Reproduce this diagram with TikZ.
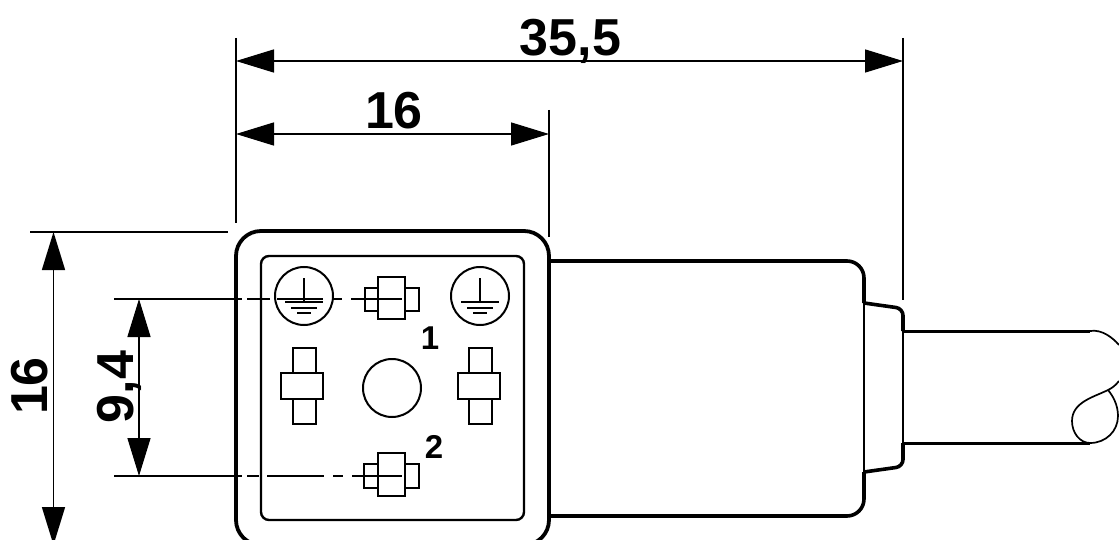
\documentclass[tikz,border=0pt]{standalone}
\usepackage{fontspec}
\setmainfont{Liberation Sans}
\usetikzlibrary{arrows.meta}
\tikzset{
    dimline/.style={line width=1.5pt,{Triangle[length=38pt,width=23pt]}-{Triangle[length=38pt,width=23pt]}},
    helpline/.style={line width=1.5pt},
    dimtext/.style={font=\fontsize{52}{52}\selectfont\bfseries,inner sep=0pt},
    pintext/.style={font=\fontsize{33}{33}\selectfont\bfseries,inner sep=0pt},
    pinbox/.style={draw,rectangle,line width=2pt,inner sep=0pt,fill=white},
    hole/.style={draw,circle,line width=2pt,inner sep=0pt,minimum size=58pt},
    thick outline/.style={line width=3.6pt},
    cable/.style={line width=1.7pt}
}

\begin{document}
\begin{tikzpicture}[x=1pt,y=-1pt]
    \useasboundingbox (0,0) rectangle (1119,540);

    % housing
    \node[draw,rectangle,rounded corners=25pt,line width=3.8pt,inner sep=0pt,minimum width=313pt,minimum height=314pt] (housing) at (392.5,388) {};
    \node[draw,rectangle,rounded corners=8pt,line width=2.4pt,inner sep=0pt,minimum width=263pt,minimum height=264pt] (face) at (392.5,388) {};

    % body and collar
    \draw[thick outline,rounded corners=17pt] (549,261) -- (864,261) -- (864,303);
    \draw[thick outline,rounded corners=17pt] (549,516) -- (864,516) -- (864,472);
    \draw[thick outline,rounded corners=7pt] (864,303) -- (903,308.5) -- (903,331);
    \draw[thick outline,rounded corners=7pt] (864,472) -- (903,466.5) -- (903,443);
    \draw[cable] (864,303) -- (864,472);
    \draw[cable] (903,331) -- (903,443);

    % cable
    \draw[line width=3pt] (903,331) -- (1090,331);
    \draw[line width=3pt] (903,443) -- (1090,443);
    \draw[cable] (1090,331) .. controls (1102,329) and (1113,338) .. (1119,345);
    \draw[cable] (1119,381) .. controls (1115,386) and (1112,388) .. (1108,390) .. controls (1094,397) and (1072,402) .. (1072,421) .. controls (1072,433) and (1080,443) .. (1090,443) .. controls (1106,443) and (1118,431) .. (1118,416) .. controls (1118,405) and (1113,396) .. (1108,390);

    % contacts
    \node[hole] (earth1) at (304,296) {};
    \node[hole] (earth2) at (480,296) {};
    \node[hole] (center) at (392,388) {};
    \foreach \ex/\en in {304/earth1,480/earth2}{
        \draw[line width=2pt] (\ex,278) -- (\ex,302);
        \draw[line width=2pt] (\ex-19,302) -- (\ex+19,302);
        \draw[line width=2pt] (\ex-13,307.5) -- (\ex+13,307.5);
        \draw[line width=2pt] (\ex-7,313) -- (\ex+7,313);
    }

    \node[pinbox,minimum width=54pt,minimum height=23pt] (pin1a) at (392,299.5) {};
    \node[pinbox,minimum width=27pt,minimum height=42pt] (pin1b) at (391.5,298) {};
    \node[pinbox,minimum width=55pt,minimum height=24pt] (pin2a) at (391.5,476) {};
    \node[pinbox,minimum width=27pt,minimum height=43pt] (pin2b) at (391.5,474.5) {};
    \node[pinbox,minimum width=23pt,minimum height=76pt] (pin3a) at (304.5,386) {};
    \node[pinbox,minimum width=42pt,minimum height=26pt] (pin3b) at (302,386) {};
    \node[pinbox,minimum width=23pt,minimum height=76pt] (pin4a) at (480.5,386) {};
    \node[pinbox,minimum width=42pt,minimum height=26pt] (pin4b) at (479,386) {};

    % axis lines
    \coordinate (h1) at (114,299);
    \coordinate (h2) at (114,476);
    \draw[helpline] (h1) -- (242,299) (247,299) -- (270,299) (277,299) -- (323,299) (333,299) -- (342,299) (351,299) -- (402,299);
    \draw[helpline] (h2) -- (242,476) (247,476) -- (259,476) (267,476) -- (324,476) (333,476) -- (343,476) (352,476) -- (402,476);

    \node[pintext] (num1) at (430,338) {1};
    \node[pintext] (num2) at (434,447) {2};

    % dimensions
    \coordinate (a1) at (236,61);
    \coordinate (a2) at (903,61);
    \coordinate (b1) at (236,134);
    \coordinate (b2) at (549,134);
    \coordinate (c1) at (53.5,232);
    \coordinate (c2) at (53.5,545);
    \coordinate (d1) at (139,299);
    \coordinate (d2) at (139,476);
    \draw[dimline] (a1) -- (a2);
    \draw[dimline] (b1) -- (b2);
    \draw[dimline] (c1) -- (c2);
    \draw[dimline] (d1) -- (d2);
    \draw[helpline] (236,38) -- (236,223);
    \draw[helpline] (549,110) -- (549,237);
    \draw[helpline] (903,38) -- (903,300);
    \draw[helpline] (30,232) -- (228,232);

    \node[dimtext] (dim1) at (570.5,41) {35,5};
    \node[dimtext] (dim2) at (394,111) {16};
    \node[dimtext,rotate=90] (dim3) at (29.5,386) {16};
    \node[dimtext,rotate=90] (dim4) at (119,387) {9,4};
\end{tikzpicture}
\end{document}
